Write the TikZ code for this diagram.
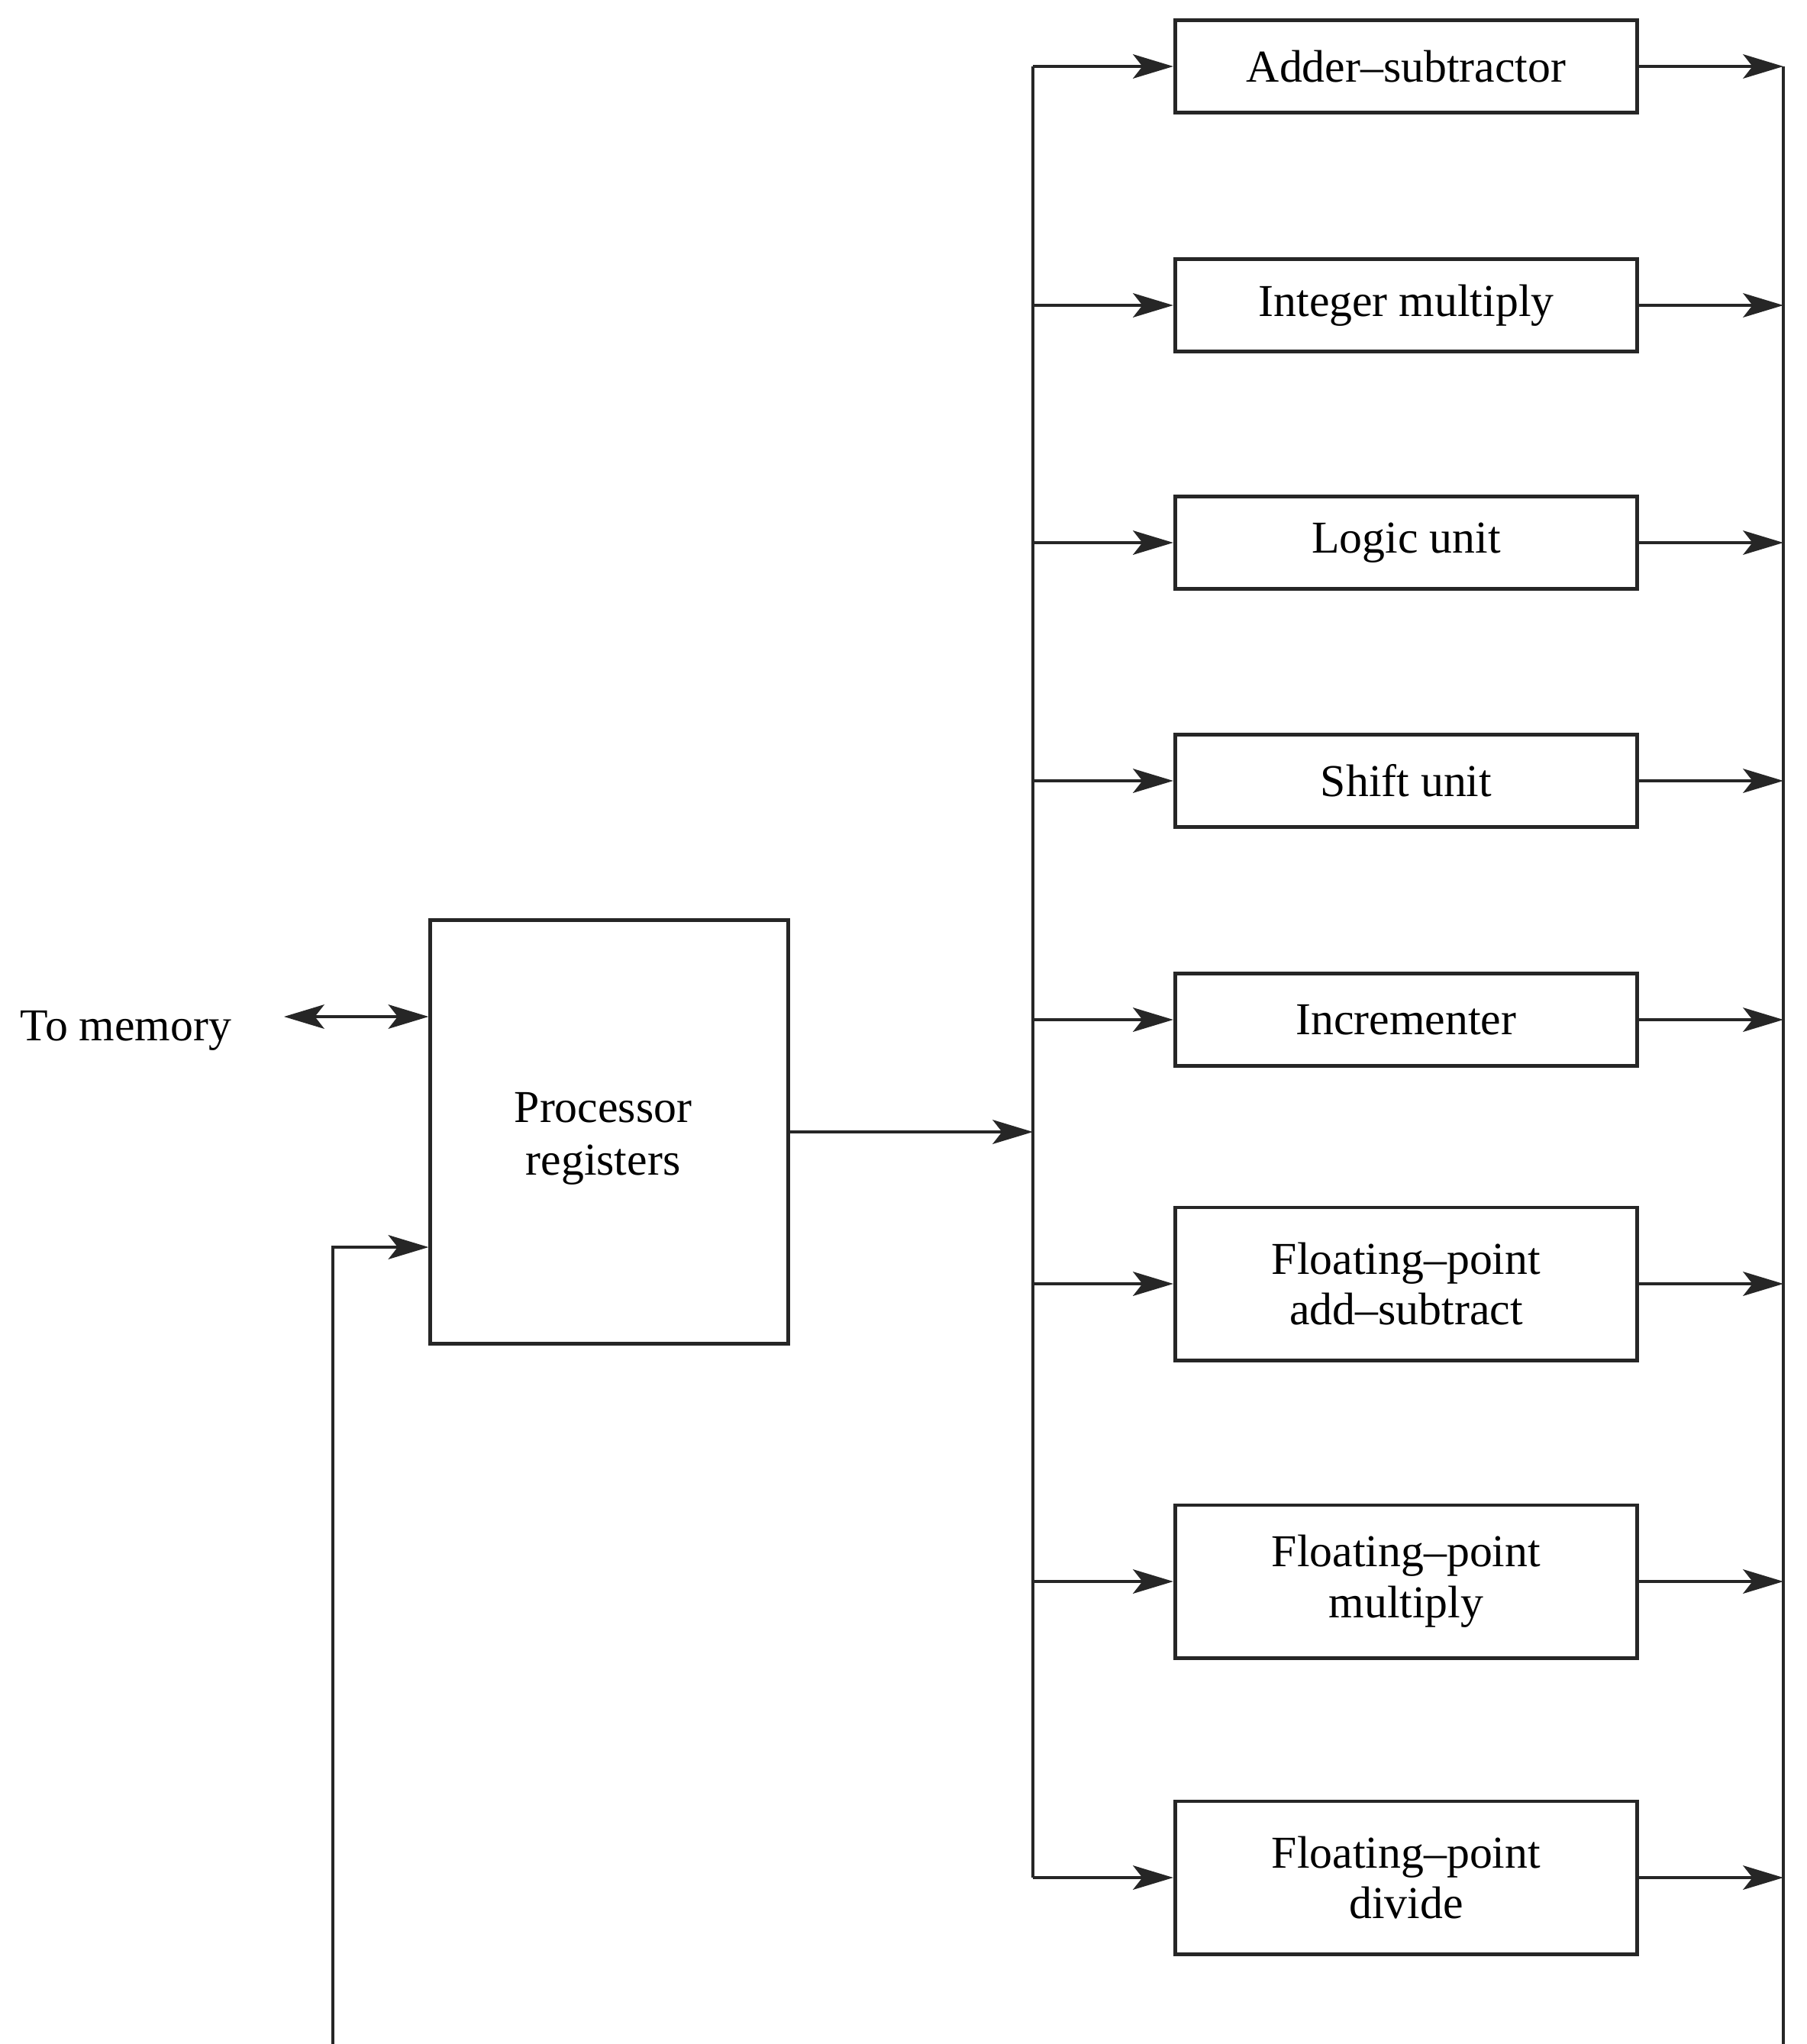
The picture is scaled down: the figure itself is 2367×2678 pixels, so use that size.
\documentclass[tikz,border=0pt]{standalone}
\usepackage{fontspec}
\setmainfont{Liberation Serif}
\usetikzlibrary{arrows.meta}
\begin{document}
\begin{tikzpicture}[x=0.01cm,y=-0.01cm,
  unitbox/.style={draw=black!85, line width=1.4pt, fill=white, minimum width=6.05cm, align=center,
    inner sep=0pt, font=\fontsize{17}{19}\selectfont},
  onebox/.style={unitbox, minimum height=1.21cm},
  twobox/.style={unitbox, minimum height=2.0cm},
  conn/.style={draw=black!85, line width=1.1pt, -{Stealth[length=15pt,width=9pt,inset=3.5pt]}},
  wire/.style={draw=black!85, line width=1.1pt}]
\useasboundingbox (0,0) rectangle (2367,2678);

% functional units
\node[onebox] (add)  at (1842,87)   {Adder–subtractor};
\node[onebox] (imul) at (1842,400)  {Integer multiply};
\node[onebox] (logic) at (1842,711) {Logic unit};
\node[onebox] (shift) at (1842,1023) {Shift unit};
\node[onebox] (inc)  at (1842,1336) {Incrementer};
\node[twobox] (fadd) at (1842,1682) {Floating–point\\add–subtract};
\node[twobox] (fmul) at (1842,2072) {Floating–point\\multiply};
\node[twobox] (fdiv) at (1842,2460) {Floating–point\\divide};

% processor registers
\node[draw=black!85, line width=1.4pt, minimum width=4.68cm, minimum height=5.55cm, align=center,
  inner sep=0pt, font=\fontsize{17}{19.5}\selectfont] (proc) at (798,1483) {};
\node[align=center, inner sep=0pt, font=\fontsize{17}{19.5}\selectfont] (proctext) at (790,1492) {Processor\\registers};

\node[anchor=west, inner sep=0pt, font=\fontsize{17}{19}\selectfont] (mem) at (26,1350) {To memory};

% bus coordinates
\coordinate (lbus) at (1353,0);
\coordinate (rbus) at (2336,0);
\coordinate (rbot) at (2336,2678);
\coordinate (fb) at (436,2678);
\coordinate (memL) at (372,1332);

% left bus
\draw[wire] (lbus |- add.west) -- (lbus |- fdiv.west);
\foreach \n in {add,imul,logic,shift,inc,fadd,fmul,fdiv}{
  \draw[conn] (lbus |- \n.west) -- (\n.west);
  \draw[conn] (\n.east) -- (rbus |- \n.east);
}
% right bus
\draw[wire] (rbus |- add.east) -- (rbot);

% processor output
\draw[conn] (proc.east) -- (lbus |- proc.east);

% memory
\draw[draw=black!85, line width=1.1pt, {Stealth[length=15pt,width=9pt,inset=3.5pt]}-{Stealth[length=15pt,width=9pt,inset=3.5pt]}]
  (memL) -- (proc.west |- memL);

% feedback
\draw[conn] (fb) |- (proc.west |- 0,1634);
\end{tikzpicture}
\end{document}
